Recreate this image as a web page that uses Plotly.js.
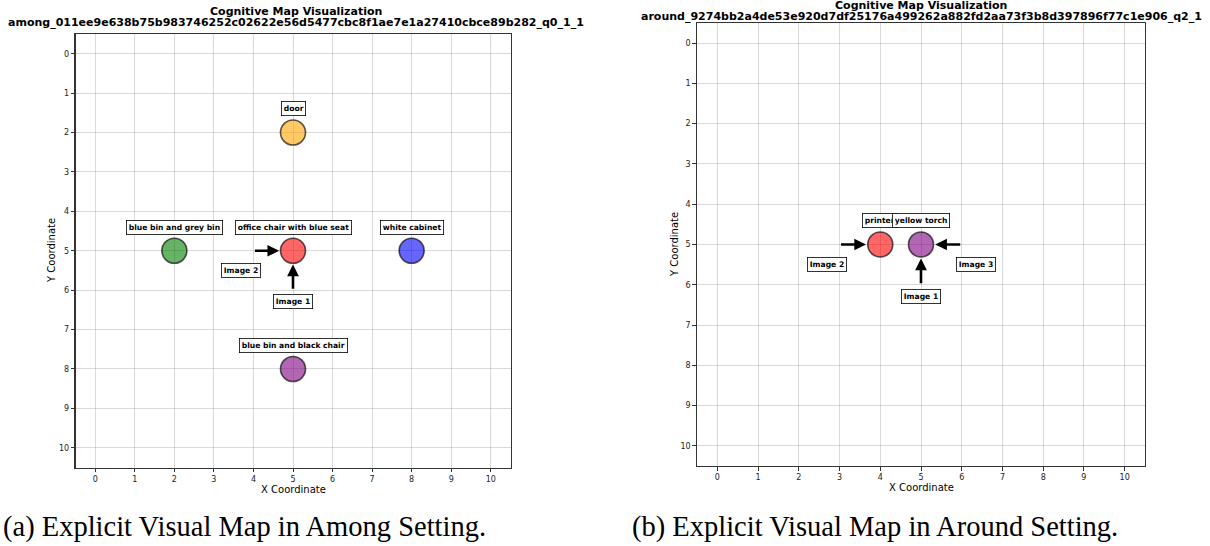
<!DOCTYPE html>
<html>
<head>
<meta charset="utf-8">
<script src="https://cdn.plot.ly/plotly-3.0.1.min.js"></script>
<style>html,body{margin:0;padding:0;background:#fff;}#chart{width:1210px;height:546px;}</style>
</head>
<body>
<div id="chart"></div>
<script>
// ---- Data: panel (a) Among setting ----
const titleA = "among_011ee9e638b75b983746252c02622e56d5477cbc8f1ae7e1a27410cbce89b282_q0_1_1";
const objNamesA = ["door", "blue bin and grey bin", "office chair with blue seat", "white cabinet", "blue bin and black chair"];
const objXA = [5, 2, 5, 8, 5];
const objYA = [2, 5, 5, 5, 8];
const objColorsA = ["orange", "green", "red", "blue", "purple"];
const imgNamesA = ["Image 1", "Image 2"];
const imgXA = [5, 4];
const imgYA = [6, 5];
const imgDirA = ["up", "right"];

// ---- Data: panel (b) Around setting ----
const titleB = "around_9274bb2a4de53e920d7df25176a499262a882fd2aa73f3b8d397896f77c1e906_q2_1";
const objNamesB = ["printer", "yellow torch"];
const objXB = [4, 5];
const objYB = [5, 5];
const objColorsB = ["red", "purple"];
const imgNamesB = ["Image 1", "Image 2", "Image 3"];
const imgXB = [5, 3, 6];
const imgYB = [6, 5, 5];
const imgDirB = ["up", "right", "left"];

const tickVals = [0,1,2,3,4,5,6,7,8,9,10];
const captions = ["(a) Explicit Visual Map in Among Setting.", "(b) Explicit Visual Map in Around Setting."];

// ---- styling ----
const W = 1210, H = 546;
const colorMap = {
  orange: "rgba(255,165,0,0.6)", green: "rgba(0,128,0,0.6)", red: "rgba(255,0,0,0.6)",
  blue: "rgba(0,0,255,0.6)", purple: "rgba(128,0,128,0.6)"
};
const FONT = "DejaVu Sans, Liberation Sans, sans-serif";
const px = v => v / W;
const py = v => 1 - v / H;

function axis(domain, reversed) {
  return {
    domain: domain,
    range: reversed ? [10.5, -0.5] : [-0.5, 10.5],
    tickvals: tickVals,
    ticks: "outside", ticklen: 3.5, tickwidth: 1, tickcolor: "#333",
    showline: true, linecolor: "#333", linewidth: 1.2, mirror: true,
    showgrid: true, gridcolor: "rgba(160,160,160,0.4)", gridwidth: 1,
    zeroline: false, fixedrange: true,
    tickfont: {family: FONT, size: 8, color: "#222"}
  };
}

const traces = [
  {type: "scatter", mode: "markers", x: objXA, y: objYA, xaxis: "x", yaxis: "y",
   marker: {size: 25, color: objColorsA.map(c => colorMap[c]), line: {color: "rgba(0,0,0,0.65)", width: 1.6}},
   hoverinfo: "skip", showlegend: false},
  {type: "scatter", mode: "markers", x: objXB, y: objYB, xaxis: "x2", yaxis: "y2",
   marker: {size: 25, color: objColorsB.map(c => colorMap[c]), line: {color: "rgba(0,0,0,0.65)", width: 1.6}},
   hoverinfo: "skip", showlegend: false}
];

const annotations = [];
function labelAnn(text, x, y, xr, yr) {
  return {text: "<b>" + text + "</b>", x: x, y: y, xref: xr, yref: yr, showarrow: false,
    font: {family: FONT, size: 7.6, color: "#000"}, bgcolor: "#fff", bordercolor: "#000",
    borderwidth: 0.8, borderpad: 2, xanchor: "center", yanchor: "middle"};
}
function addObjects(names, xs, ys, xr, yr) {
  names.forEach((n, i) => annotations.push(labelAnn(n, xs[i], ys[i] - 0.6, xr, yr)));
}
function addImages(names, xs, ys, dirs, xr, yr) {
  names.forEach((n, i) => {
    const x0 = xs[i], y0 = ys[i], d = dirs[i];
    let tx = x0, ty = y0, lx = x0, ly = y0;
    if (d === "up") { ty = y0 - 0.65; ly = y0 + 0.3; }
    if (d === "right") { tx = x0 + 0.65; lx = x0 - 0.32; ly = y0 + 0.5; }
    if (d === "left") { tx = x0 - 0.65; lx = x0 + 0.35; ly = y0 + 0.5; }
    annotations.push({x: tx, y: ty, ax: x0, ay: y0, xref: xr, yref: yr, axref: xr, ayref: yr,
      text: "", showarrow: true, arrowhead: 2, arrowsize: 0.9, arrowwidth: 2.6, arrowcolor: "#000"});
    annotations.push(labelAnn(n, lx, ly, xr, yr));
  });
}
addObjects(objNamesA, objXA, objYA, "x", "y");
addImages(imgNamesA, imgXA, imgYA, imgDirA, "x", "y");
addObjects(objNamesB, objXB, objYB, "x2", "y2");
addImages(imgNamesB, imgXB, imgYB, imgDirB, "x2", "y2");

function paperText(text, xPix, yPix, size, opts) {
  return Object.assign({text: text, x: px(xPix), y: py(yPix), xref: "paper", yref: "paper",
    showarrow: false, xanchor: "center", yanchor: "middle",
    font: {family: FONT, size: size, color: "#000"}}, opts || {});
}
// Titles
annotations.push(paperText("<b>Cognitive Map Visualization</b>", 296, 11, 11));
annotations.push(paperText("<b>" + titleA + "</b>", 296, 23, 11));
annotations.push(paperText("<b>Cognitive Map Visualization</b>", 921, 6, 11));
annotations.push(paperText("<b>" + titleB + "</b>", 921, 16, 11));
// Axis titles
annotations.push(paperText("X Coordinate", 293, 489, 10));
annotations.push(paperText("X Coordinate", 921, 487, 10));
annotations.push(paperText("Y Coordinate", 52, 251, 10, {textangle: -90}));
annotations.push(paperText("Y Coordinate", 675, 245, 10, {textangle: -90}));
// Captions
const capFont = {family: "Liberation Serif, serif", size: 28.5, color: "#000"};
annotations.push(paperText(captions[0], 1, 527, 28.5, {xanchor: "left", font: capFont}));
annotations.push(paperText(captions[1], 630, 527, 28.5, {xanchor: "left", font: capFont}));

const layout = {
  width: W, height: H, margin: {l: 0, r: 0, t: 0, b: 0},
  paper_bgcolor: "#fff", plot_bgcolor: "#fff", showlegend: false,
  xaxis: Object.assign(axis([px(75.5), px(510.5)], false), {anchor: "y"}),
  yaxis: Object.assign(axis([py(467.5), py(34)], true), {anchor: "x"}),
  xaxis2: Object.assign(axis([px(697), px(1145)], false), {anchor: "y2"}),
  yaxis2: Object.assign(axis([py(466), py(23)], true), {anchor: "x2"}),
  annotations: annotations
};
Plotly.newPlot("chart", traces, layout, {displayModeBar: false, staticPlot: true});
</script>
</body>
</html>
